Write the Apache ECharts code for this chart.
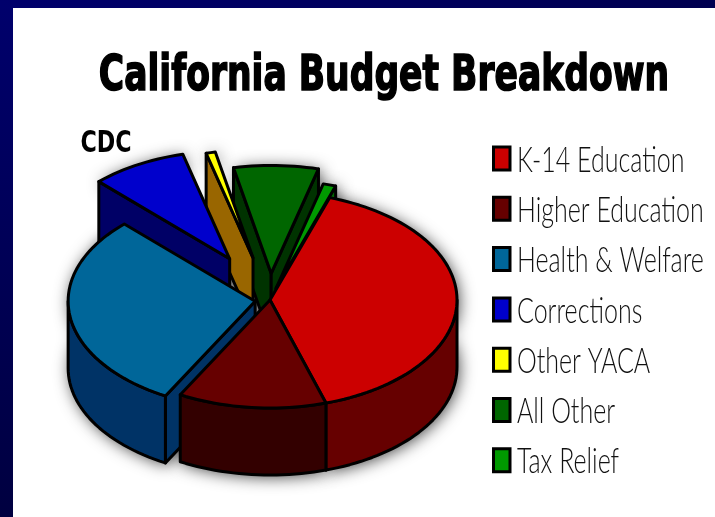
<!DOCTYPE html>
<html>
<head>
<meta charset="utf-8">
<style>html,body{margin:0;padding:0;background:#fff}#chart{width:715px;height:517px}</style>
<script src="https://cdn.jsdelivr.net/npm/echarts@6/dist/echarts.min.js"></script>
</head>
<body>
<div id="chart"></div>
<script>
// Budget shares in percent
const categories = ['K-14 Education', 'Higher Education', 'Health & Welfare', 'Corrections', 'Other YACA', 'All Other', 'Tax Relief'];
const shares = [40, 12.8, 29.7, 8.3, 0.8, 7.3, 1.1];
const chartTitle = 'California Budget Breakdown';
const calloutText = 'CDC';

// Colours: top face, then rim and cut faces
const topColors = ['#cc0000', '#660000', '#006699', '#0000cc', '#ffff00', '#006600', '#009900'];
const rimColors = ['#660000', '#330000', '#003366', '#000066', '#996600', '#003300', '#006600'];

// Pie projection
const CX = 270, CY = 300, RX = 187, RY = 108, DEPTH = 67, START_DEG = 18.6;
// How far each slice is pulled out, measured on the flat circle
const pullOut = [0, 0, 15, 82, 75, 46, 21];
// Back-to-front drawing order
const paintOrder = [5, 6, 4, 3, 2, 0, 1];

const total = shares.reduce((a, b) => a + b, 0);
const ranges = [];
shares.reduce((from, v, i) => {
  const to = from + v / total * 360;
  ranges[i] = [from, to];
  return to;
}, START_DEG);

const rad = d => d * Math.PI / 180;
function rimPoint(c, deg, dz) {
  return [c[0] + RX * Math.sin(rad(deg)), c[1] - RY * Math.cos(rad(deg)) + dz];
}
function arcPoints(c, a, b, dz) {
  const n = Math.max(2, Math.ceil((b - a) / 2)), pts = [];
  for (let i = 0; i <= n; i++) pts.push(rimPoint(c, a + (b - a) * i / n, dz));
  return pts;
}
function sliceCentre(i) {
  const mid = rad((ranges[i][0] + ranges[i][1]) / 2), p = pullOut[i];
  return [CX + p * Math.sin(mid), CY - p * Math.cos(mid) * RY / RX];
}
const EDGE = { stroke: '#000', lineWidth: 3, lineJoin: 'round' };
function poly(points, fill) {
  return { type: 'polygon', shape: { points }, style: Object.assign({ fill }, EDGE) };
}

// Visible faces of one slice: cut faces, curved rim, then the top
function renderSlice(params, api) {
  const i = api.value(0), c = sliceCentre(i);
  const a = ranges[i][0], b = ranges[i][1];
  const kids = [];
  const down = p => [p[0], p[1] + DEPTH];
  if (Math.sin(rad(a)) < 0) {
    const o = rimPoint(c, a, 0);
    kids.push(poly([c, o, down(o), down(c)], rimColors[i]));
  }
  if (Math.sin(rad(b)) > 0) {
    const o = rimPoint(c, b, 0);
    kids.push(poly([c, o, down(o), down(c)], rimColors[i]));
  }
  const lo = Math.max(a, 90), hi = Math.min(b, 270);
  if (hi > lo) {
    kids.push(poly(arcPoints(c, lo, hi, 0).concat(arcPoints(c, lo, hi, DEPTH).reverse()), rimColors[i]));
  }
  kids.push(poly([c].concat(arcPoints(c, a, b, 0)), topColors[i]));
  return { type: 'group', children: kids };
}

// Soft grey glow under each slice's silhouette
function renderShadow(params, api) {
  const i = api.value(0), c = sliceCentre(i);
  const top = arcPoints(c, ranges[i][0], ranges[i][1], 0);
  const bottom = arcPoints(c, ranges[i][0], ranges[i][1], DEPTH);
  return {
    type: 'polygon',
    shape: { points: [c].concat(top, bottom.reverse(), [[c[0], c[1] + DEPTH]]) },
    style: { fill: '#999', shadowColor: 'rgba(0,0,0,0.75)', shadowBlur: 16, shadowOffsetX: 2, shadowOffsetY: 2 }
  };
}

// Key entries down the right-hand side
function renderKey(params, api) {
  const i = api.value(0), y = 158.5 + i * 50.3;
  return {
    type: 'group',
    children: [
      { type: 'rect', shape: { x: 493.5, y: y - 11.5, width: 16.5, height: 23 }, style: { fill: topColors[i], stroke: '#000', lineWidth: 3 } },
      { type: 'text', x: 517, y: y + 1.5, scaleX: 1, scaleY: 1.45,
        style: { text: categories[i], fill: '#111', font: '300 25px Lato, "Open Sans", sans-serif', textAlign: 'left', textVerticalAlign: 'middle' } }
    ]
  };
}

function renderHeading() {
  return {
    type: 'group',
    children: [
      { type: 'text', x: 384, y: 77, scaleX: 0.8, scaleY: 1.05,
        style: { text: chartTitle, fill: '#000', stroke: '#000', lineWidth: 1.5, font: 'bold 48px "DejaVu Sans Condensed", "DejaVu Sans", sans-serif', textAlign: 'center', textVerticalAlign: 'middle' } },
      { type: 'text', x: 106, y: 144, scaleX: 0.95, scaleY: 1.15,
        style: { text: calloutText, fill: '#000', font: 'bold 26px "DejaVu Sans Condensed", "DejaVu Sans", sans-serif', textAlign: 'center', textVerticalAlign: 'middle' } }
    ]
  };
}

const bandAcross = new echarts.graphic.LinearGradient(0, 0, 1, 0, [{ offset: 0, color: '#00006c' }, { offset: 1, color: '#000050' }]);
const bandDown = new echarts.graphic.LinearGradient(0, 0, 0, 1, [{ offset: 0, color: '#00006c' }, { offset: 1, color: '#000040' }]);

const chart = echarts.init(document.getElementById('chart'), null, { renderer: 'canvas' });
chart.setOption({
  animation: false,
  backgroundColor: '#ffffff',
  graphic: [
    { type: 'rect', z: -1, shape: { x: 0, y: 0, width: 13, height: 517 }, style: { fill: bandDown } },
    { type: 'rect', z: -1, shape: { x: 0, y: 0, width: 715, height: 8 }, style: { fill: bandAcross } }
  ],
  series: [
    { type: 'custom', coordinateSystem: 'none', z: 1, silent: true, data: paintOrder.map(i => [i]), renderItem: renderShadow },
    { type: 'custom', coordinateSystem: 'none', z: 2, silent: true, data: paintOrder.map(i => [i]), renderItem: renderSlice },
    { type: 'custom', coordinateSystem: 'none', z: 3, silent: true, data: categories.map((_, i) => [i]), renderItem: renderKey },
    { type: 'custom', coordinateSystem: 'none', z: 3, silent: true, data: [[0]], renderItem: renderHeading }
  ]
});
</script>
</body>
</html>
